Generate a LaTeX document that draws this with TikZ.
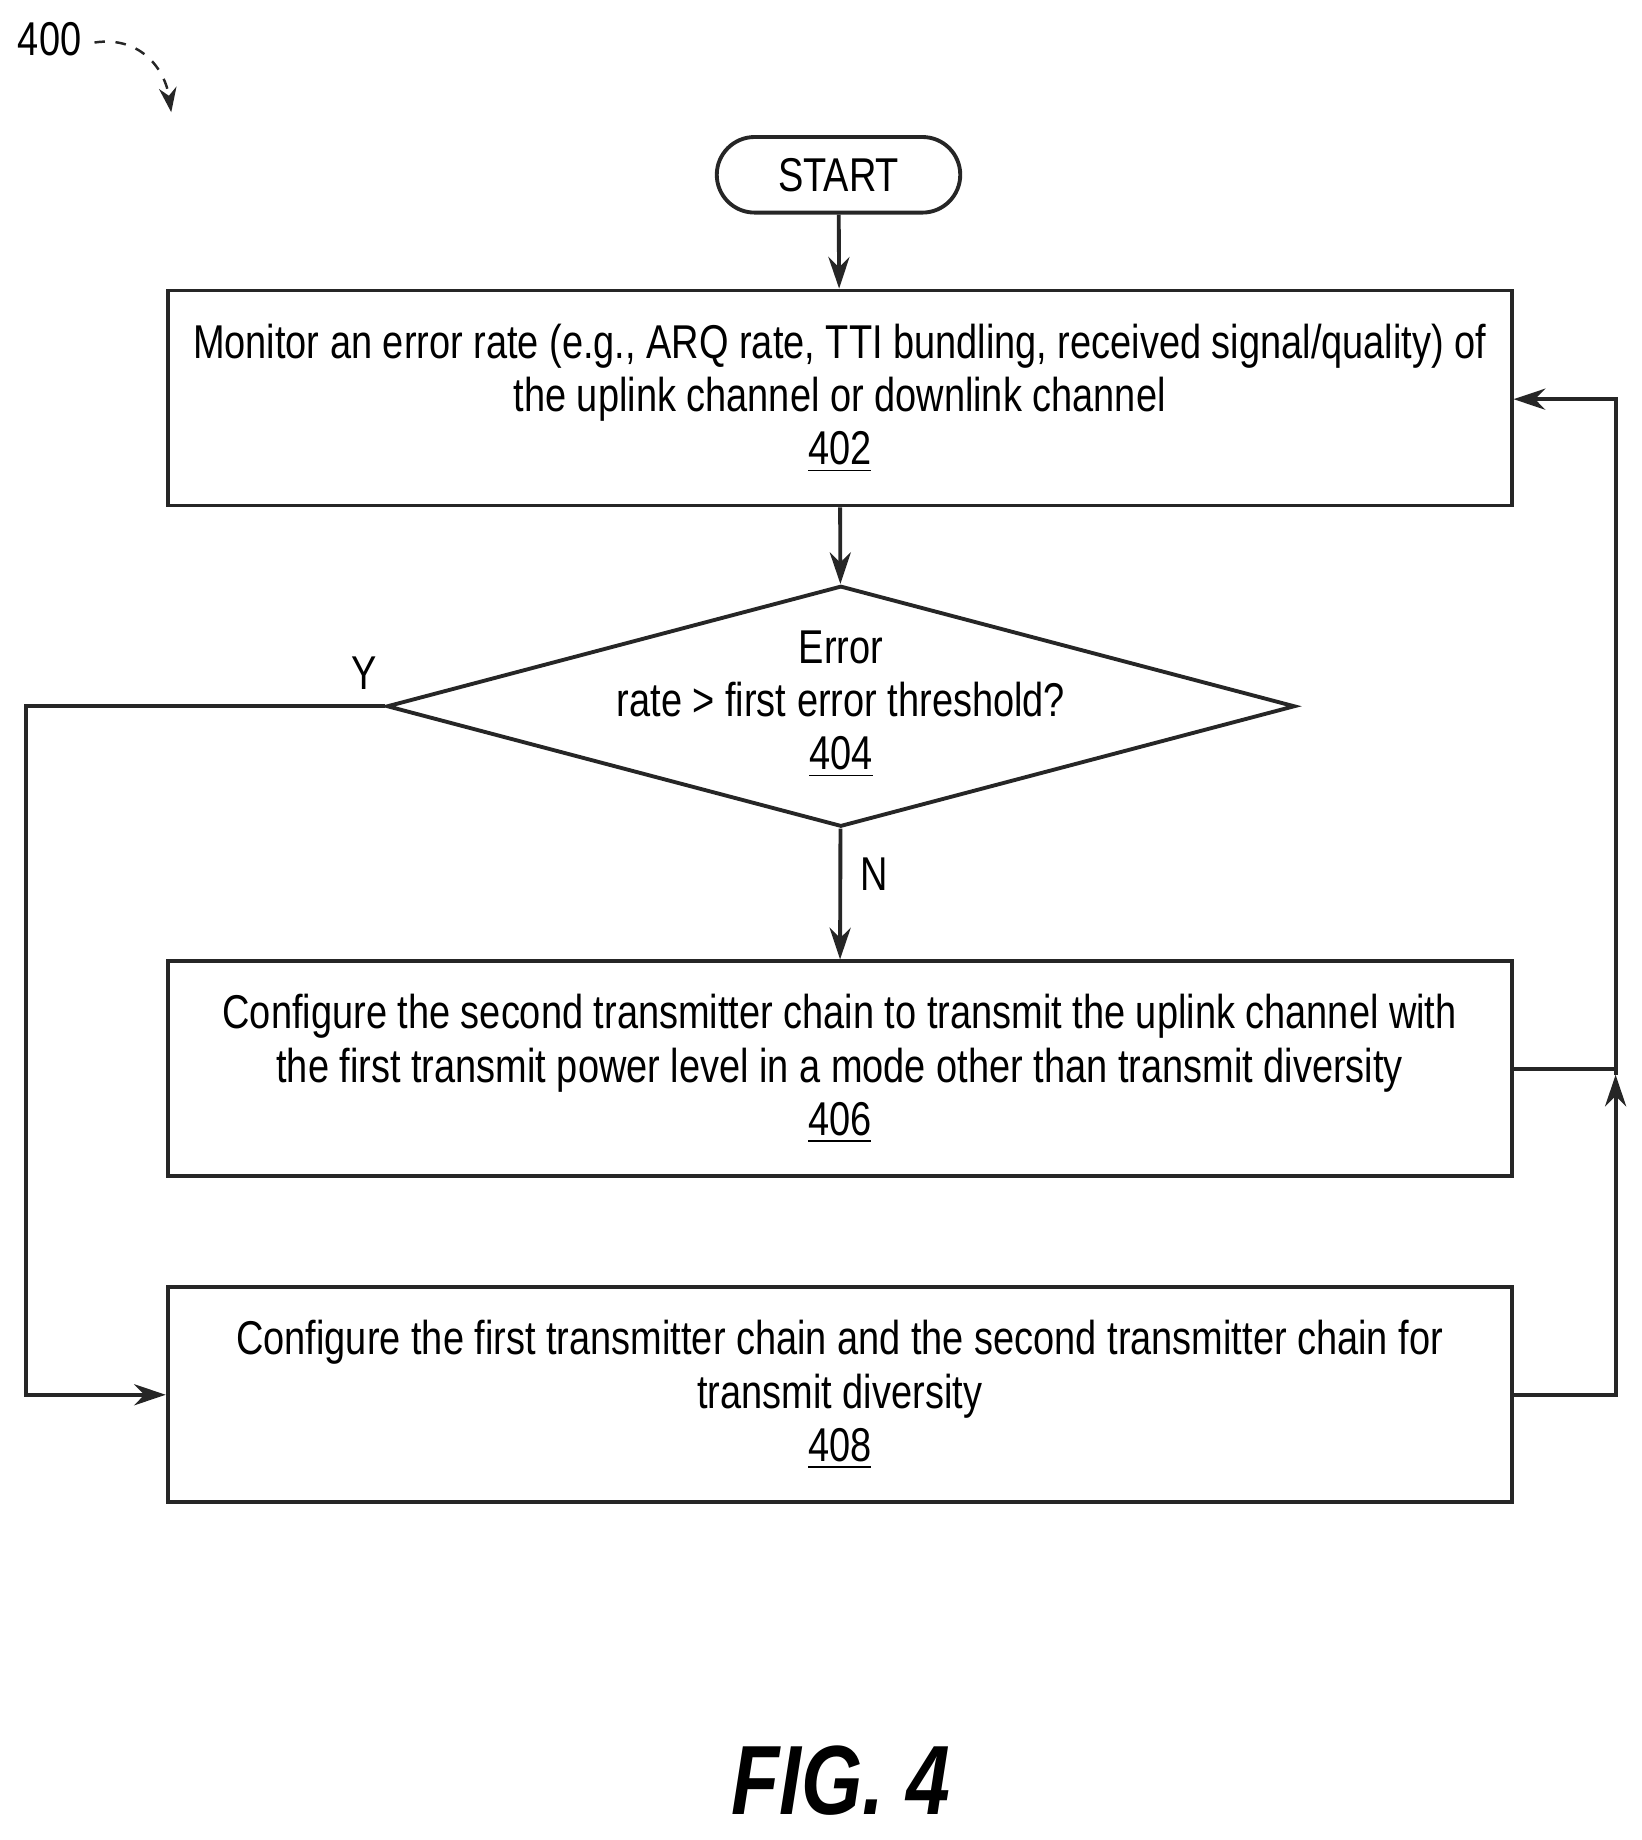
\documentclass[tikz,border=0pt]{standalone}
\usepackage{fontspec}
\setmainfont{Liberation Sans}[FakeStretch=0.8]
\usetikzlibrary{shapes.geometric,shapes.misc,arrows.meta}
\begin{document}
\begin{tikzpicture}[x=0.011806cm,y=-0.011806cm,
  ln/.style={draw=black!85,line width=1.1pt},
  arr/.style={ln,-{Stealth[length=9pt,width=6pt]}},
  box/.style={ln,rectangle,minimum width=1138*0.011806cm,minimum height=182*0.011806cm,align=center,inner sep=0pt},
  txt/.style={font=\fontsize{13.5}{15.2}\selectfont}]
\useasboundingbox (0,0) rectangle (1390,1558);
\node[txt] (n400) at (42,33) {400};
\coordinate (c400) at (145,95);
\draw[ln,dashed,line width=0.7pt,-{Stealth[length=7pt,width=5pt]}] (80,36) .. controls (120,30) and (140,60) .. (c400);
\node[ln,rounded rectangle,minimum width=226*0.011806cm,minimum height=64*0.011806cm,txt] (start) at (710,148) {START};
\node[box,txt] (b402) at (711,337) {Monitor an error rate (e.g., ARQ rate, TTI bundling, received signal/quality) of\\the uplink channel or downlink channel\\\underline{402}};
\node[ln,diamond,aspect=3.77,minimum width=769*0.011806cm,minimum height=204*0.011806cm,inner sep=0pt] (d404) at (712,598) {};
\node[txt,align=center] at (712,596) {Error\\rate {>} first error threshold?\\\underline{404}};
\node[box,txt] (b406) at (711,905) {Configure the second transmitter chain to transmit the uplink channel with\\the first transmit power level in a mode other than transmit diversity\\\underline{406}};
\node[box,txt] (b408) at (711,1181) {Configure the first transmitter chain and the second transmitter chain for\\transmit diversity\\\underline{408}};
\node[txt] at (308,570) {Y};
\node[txt] at (740,740) {N};
\draw[arr] (start) -- (b402);
\draw[arr] (b402) -- (d404);
\draw[arr] (d404) -- (b406);
\draw[arr] (d404.west) -- (22,598) |- (b408.west);
\coordinate (r1) at (1368,905);
\draw[ln] (b406.east |- r1) -- (r1);
\draw[arr] (b408.east) -- (1368,1181) -- (1368,910);
\draw[arr] (1368,910) -- (1368,338) -- (b402.east |- 0,338);
\node[font=\fontsize{28}{28}\selectfont\bfseries\itshape] (fig) at (712,1508) {FIG. 4};
\end{tikzpicture}
\end{document}
